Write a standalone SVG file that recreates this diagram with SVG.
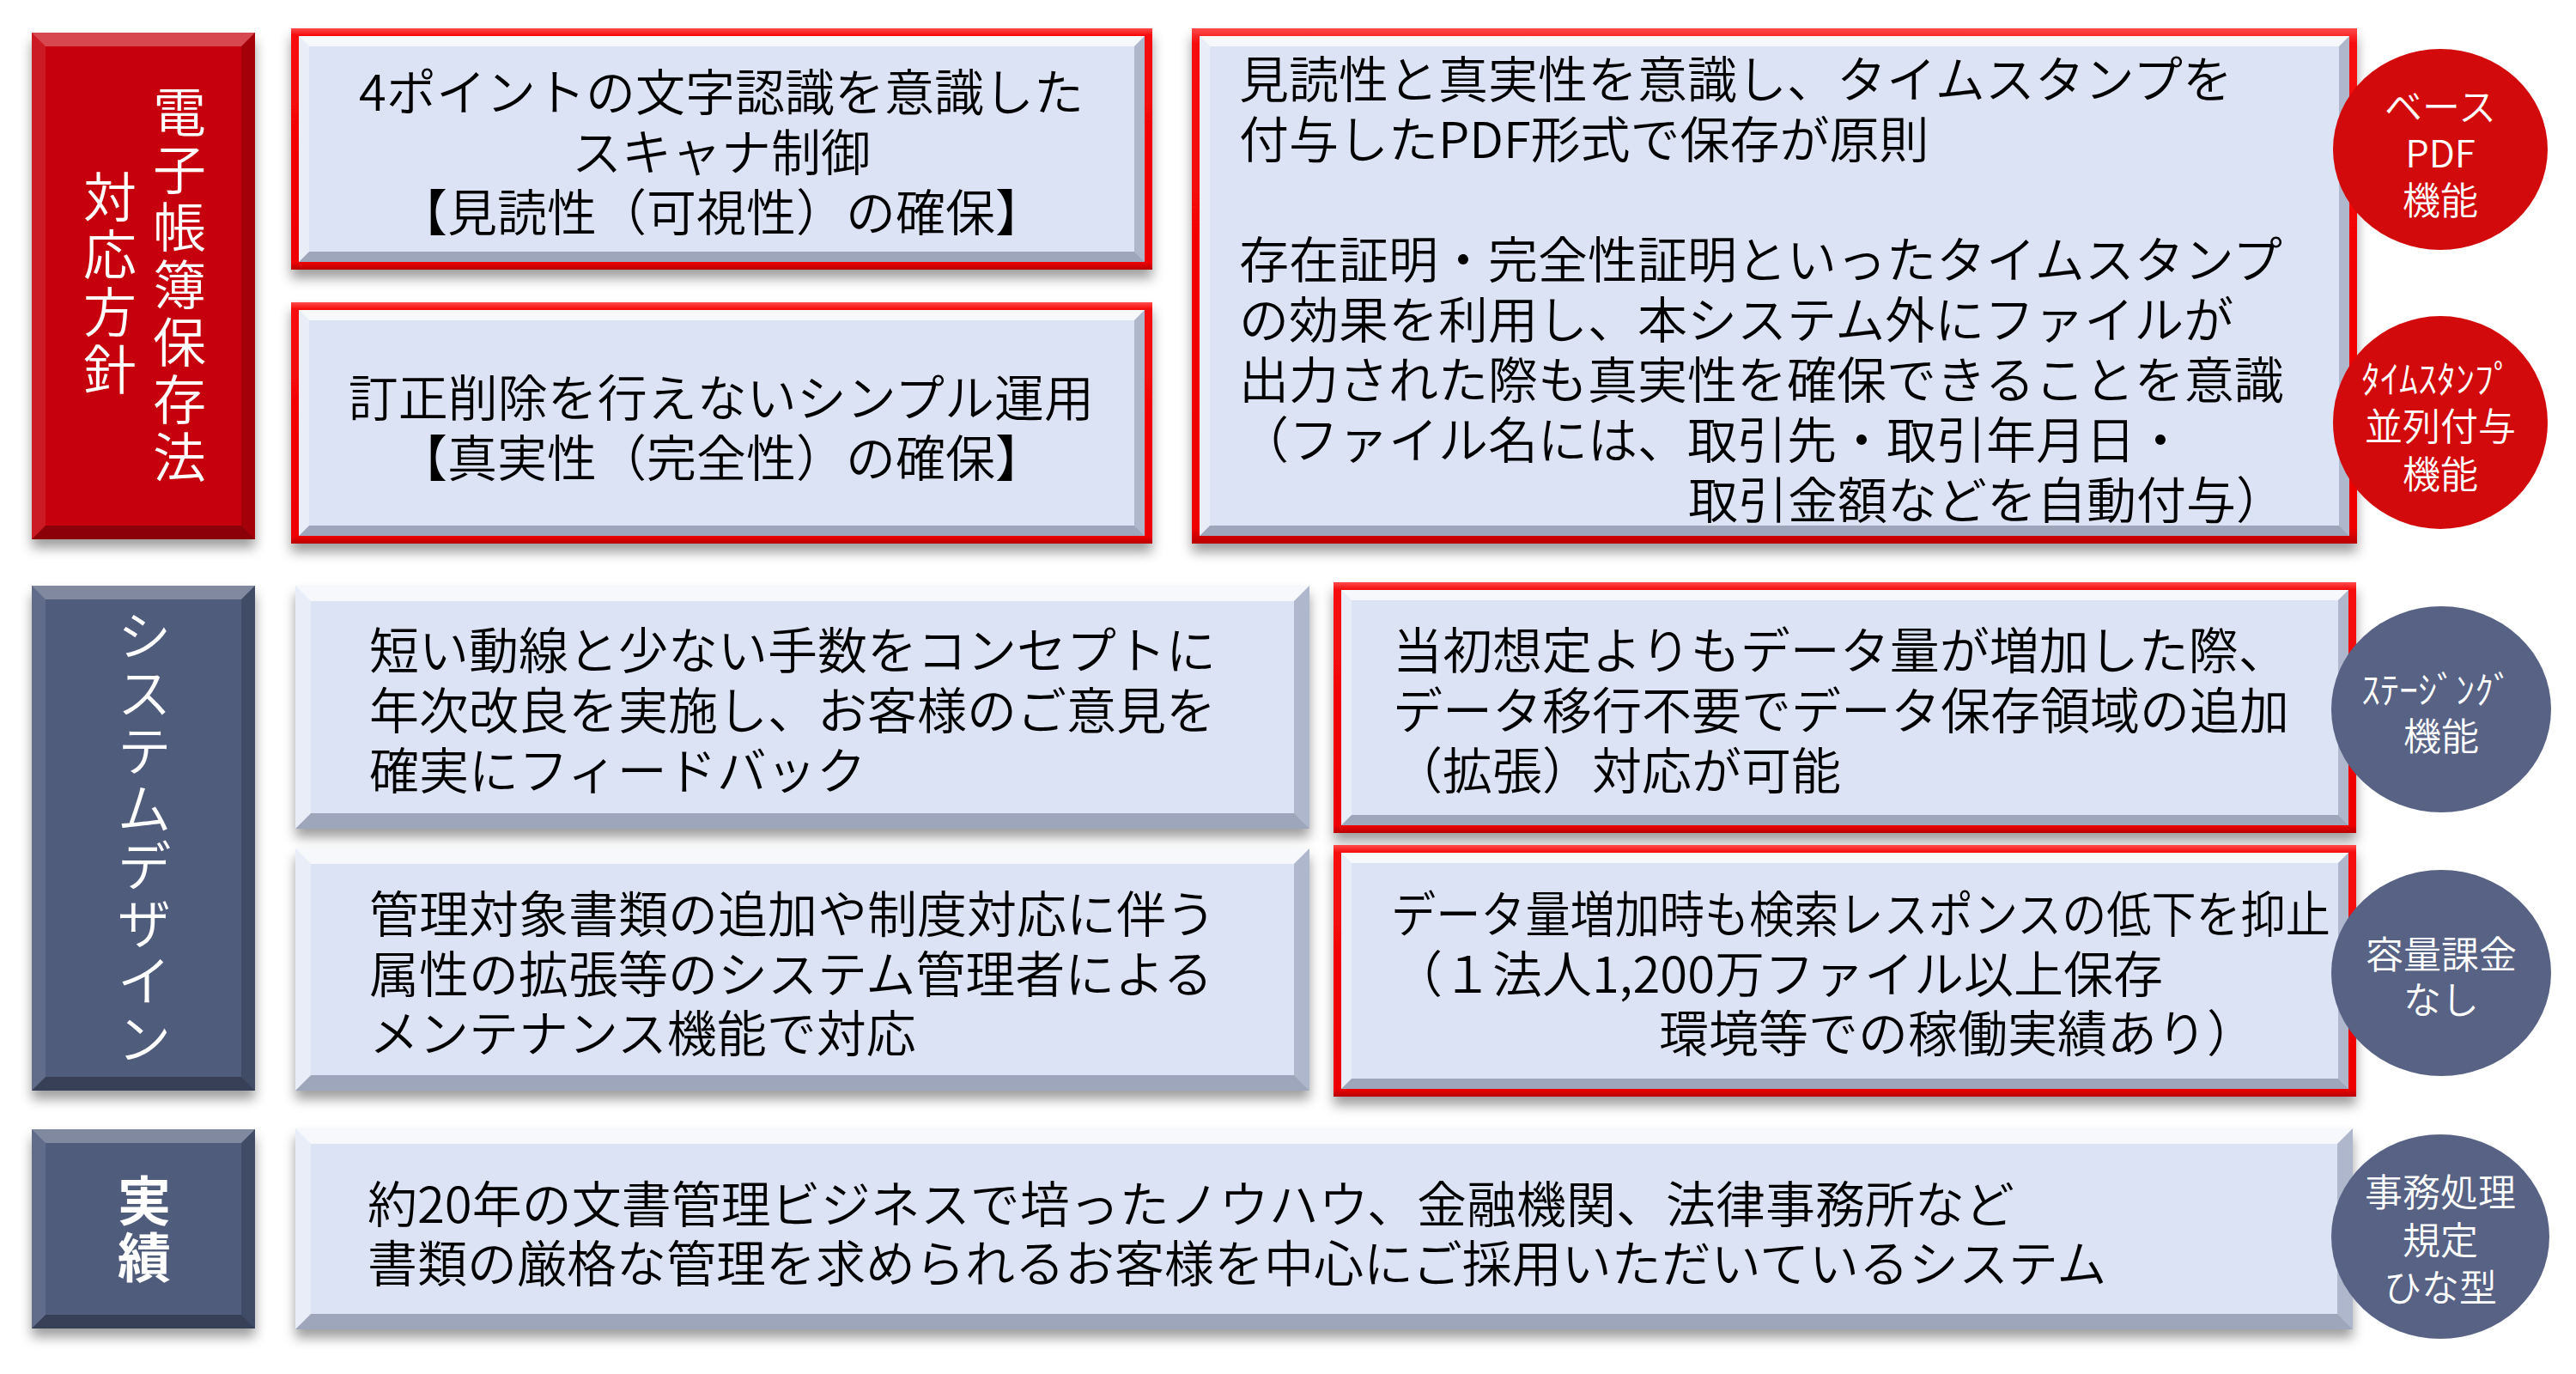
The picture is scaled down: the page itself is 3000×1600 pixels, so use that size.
<svg xmlns="http://www.w3.org/2000/svg" width="3000" height="1600" viewBox="0 0 3000 1600">
<defs>
<filter id="shadow" x="-5%" y="-10%" width="110%" height="130%">
<feDropShadow dx="0" dy="10" stdDeviation="7" flood-color="#000" flood-opacity="0.38"/>
</filter>
<linearGradient id="redFrame" x1="0" y1="0" x2="0" y2="1">
<stop offset="0" stop-color="#FF4A4A"/>
<stop offset="0.03" stop-color="#F60A0A"/>
<stop offset="0.97" stop-color="#EE0000"/>
<stop offset="1" stop-color="#B80000"/>
</linearGradient>
</defs>
<style>
.sh{filter:url(#shadow)}
.lr{fill:#C70008}
.ls{fill:#505B7B}
.fr{fill:url(#redFrame)}
.bl{fill:#DCE3F4}
.hi{fill:#FFFFFF;opacity:.75}
.hl{fill:#FFFFFF;opacity:.35}
.dr{fill:#3B4560;opacity:.28}
.db{fill:#3B4560;opacity:.38}
.lhi{fill:#FFFFFF;opacity:.28}
.lhl{fill:#FFFFFF;opacity:.1}
.ldr{fill:#000000;opacity:.18}
.ldb{fill:#000000;opacity:.3}
.cr{fill:#D30A0B}
.cs{fill:#576285}
text{font-family:"Noto Sans CJK JP","Noto Sans",sans-serif;font-weight:350}
.t{font-size:58px;fill:#000}
.c{text-anchor:middle}
.v{fill:#fff;font-size:62px;writing-mode:vertical-rl;text-anchor:middle;letter-spacing:5px}
.bd{fill:#fff;font-size:44px;text-anchor:middle}
</style>

<g id="label-policy">
<rect class="lr sh" x="37" y="38" width="260" height="590"/>
<polygon class="lhi" points="37,38 297,38 281,54 53,54"/>
<polygon class="ldb" points="37,628 297,628 281,612 53,612"/>
<polygon class="lhl" points="37,38 53,54 53,612 37,628"/>
<polygon class="ldr" points="297,38 281,54 281,612 297,628"/>
<text class="v" x="209" y="334">電子帳簿保存法</text>
<text class="v" x="128" y="332">対応方針</text>
</g>

<g id="box-scanner">
<rect class="fr sh" x="339" y="33" width="1003" height="281"/>
<rect class="bl" x="348" y="42" width="985" height="263"/>
<polygon class="hi" points="348,42 1333,42 1321,54 360,54"/>
<polygon class="db" points="348,305 1333,305 1321,293 360,293"/>
<polygon class="hl" points="348,42 360,54 360,293 348,305"/>
<polygon class="dr" points="1333,42 1321,54 1321,293 1333,305"/>
<text class="t c" x="840" y="129">4ポイントの文字認識を意識した<tspan x="840" dy="70">スキャナ制御</tspan><tspan x="840" dy="70">【見読性（可視性）の確保】</tspan></text>
</g>

<g id="box-simple">
<rect class="fr sh" x="339" y="352" width="1003" height="281"/>
<rect class="bl" x="348" y="361" width="985" height="263"/>
<polygon class="hi" points="348,361 1333,361 1321,373 360,373"/>
<polygon class="db" points="348,624 1333,624 1321,612 360,612"/>
<polygon class="hl" points="348,361 360,373 360,612 348,624"/>
<polygon class="dr" points="1333,361 1321,373 1321,612 1333,624"/>
<text class="t c" x="840" y="485">訂正削除を行えないシンプル運用<tspan x="840" dy="70">【真実性（完全性）の確保】</tspan></text>
</g>

<g id="box-timestamp">
<rect class="fr sh" x="1388" y="33" width="1357" height="600"/>
<rect class="bl" x="1397" y="42" width="1339" height="582"/>
<polygon class="hi" points="1397,42 2736,42 2724,54 1409,54"/>
<polygon class="db" points="1397,624 2736,624 2724,612 1409,612"/>
<polygon class="hl" points="1397,42 1409,54 1409,612 1397,624"/>
<polygon class="dr" points="2736,42 2724,54 2724,612 2736,624"/>
<text class="t" x="1443" y="114">見読性と真実性を意識し、タイムスタンプを<tspan x="1443" dy="70">付与したPDF形式で保存が原則</tspan><tspan x="1443" dy="140">存在証明・完全性証明といったタイムスタンプ</tspan><tspan x="1443" dy="70">の効果を利用し、本システム外にファイルが</tspan><tspan x="1443" dy="70">出力された際も真実性を確保できることを意識</tspan><tspan x="1443" dy="70">（ファイル名には、取引先・取引年月日・</tspan><tspan x="1966" dy="70">取引金額などを自動付与）</tspan></text>
</g>

<g id="badge-pdf">
<ellipse class="cr" cx="2842" cy="174" rx="125" ry="117"/>
<text class="bd" x="2842" y="141">ベース<tspan x="2842" dy="54">PDF</tspan><tspan x="2842" dy="55">機能</tspan></text>
</g>

<g id="badge-timestamp">
<ellipse class="cr" cx="2842" cy="492" rx="125" ry="124"/>
<text class="bd" x="2838" y="458">ﾀｲﾑｽﾀﾝﾌﾟ<tspan x="2842" dy="55">並列付与</tspan><tspan x="2842" dy="56">機能</tspan></text>
</g>

<g id="label-design">
<rect class="ls sh" x="37" y="682" width="260" height="588"/>
<polygon class="lhi" points="37,682 297,682 281,698 53,698"/>
<polygon class="ldb" points="37,1270 297,1270 281,1254 53,1254"/>
<polygon class="lhl" points="37,682 53,698 53,1254 37,1270"/>
<polygon class="ldr" points="297,682 281,698 281,1254 297,1270"/>
<text class="v" x="168" y="976" style="font-size:64px;letter-spacing:3px">システムデザイン</text>
</g>

<g id="box-concept">
<rect class="bl sh" x="344" y="682" width="1181" height="283"/>
<polygon class="hi" points="344,682 1525,682 1507,700 362,700"/>
<polygon class="db" points="344,965 1525,965 1507,947 362,947"/>
<polygon class="hl" points="344,682 362,700 362,947 344,965"/>
<polygon class="dr" points="1525,682 1507,700 1507,947 1525,965"/>
<text class="t" x="430" y="779">短い動線と少ない手数をコンセプトに<tspan x="430" dy="70">年次改良を実施し、お客様のご意見を</tspan><tspan x="430" dy="70">確実にフィードバック</tspan></text>
</g>

<g id="box-maintenance">
<rect class="bl sh" x="344" y="988" width="1181" height="282"/>
<polygon class="hi" points="344,988 1525,988 1507,1006 362,1006"/>
<polygon class="db" points="344,1270 1525,1270 1507,1252 362,1252"/>
<polygon class="hl" points="344,988 362,1006 362,1252 344,1270"/>
<polygon class="dr" points="1525,988 1507,1006 1507,1252 1525,1270"/>
<text class="t" x="430" y="1086">管理対象書類の追加や制度対応に伴う<tspan x="430" dy="70">属性の拡張等のシステム管理者による</tspan><tspan x="430" dy="69">メンテナンス機能で対応</tspan></text>
</g>

<g id="box-expansion">
<rect class="fr sh" x="1553" y="678" width="1191" height="292"/>
<rect class="bl" x="1562" y="687" width="1173" height="274"/>
<polygon class="hi" points="1562,687 2735,687 2723,699 1574,699"/>
<polygon class="db" points="1562,961 2735,961 2723,949 1574,949"/>
<polygon class="hl" points="1562,687 1574,699 1574,949 1562,961"/>
<polygon class="dr" points="2735,687 2723,699 2723,949 2735,961"/>
<text class="t" x="1622" y="779">当初想定よりもデータ量が増加した際、<tspan x="1622" dy="70">データ移行不要でデータ保存領域の追加</tspan><tspan x="1622" dy="70">（拡張）対応が可能</tspan></text>
</g>

<g id="box-performance">
<rect class="fr sh" x="1553" y="984" width="1191" height="293"/>
<rect class="bl" x="1562" y="993" width="1173" height="275"/>
<polygon class="hi" points="1562,993 2735,993 2723,1005 1574,1005"/>
<polygon class="db" points="1562,1268 2735,1268 2723,1256 1574,1256"/>
<polygon class="hl" points="1562,993 1574,1005 1574,1256 1562,1268"/>
<polygon class="dr" points="2735,993 2723,1005 2723,1256 2735,1268"/>
<text class="t" x="1620" y="1086"><tspan textLength="1094" lengthAdjust="spacingAndGlyphs">データ量増加時も検索レスポンスの低下を抑止</tspan><tspan x="1622" dy="70">（１法人1,200万ファイル以上保存</tspan><tspan x="1932" dy="69">環境等での稼働実績あり）</tspan></text>
</g>

<g id="badge-staging">
<ellipse class="cs" cx="2843" cy="826" rx="128" ry="120"/>
<text class="bd" x="2838" y="820">ｽﾃｰｼﾞﾝｸﾞ<tspan x="2843" dy="54">機能</tspan></text>
</g>

<g id="badge-capacity">
<ellipse class="cs" cx="2843" cy="1133" rx="128" ry="120"/>
<text class="bd" x="2843" y="1128">容量課金<tspan x="2843" dy="53">なし</tspan></text>
</g>

<g id="label-results">
<rect class="ls sh" x="37" y="1315" width="260" height="232"/>
<polygon class="lhi" points="37,1315 297,1315 281,1331 53,1331"/>
<polygon class="ldb" points="37,1547 297,1547 281,1531 53,1531"/>
<polygon class="lhl" points="37,1315 53,1331 53,1531 37,1547"/>
<polygon class="ldr" points="297,1315 281,1331 281,1531 297,1547"/>
<text class="v" x="168" y="1433" style="font-weight:700;letter-spacing:4px">実績</text>
</g>

<g id="box-results">
<rect class="bl sh" x="344" y="1314" width="2396" height="234"/>
<polygon class="hi" points="344,1314 2740,1314 2722,1332 362,1332"/>
<polygon class="db" points="344,1548 2740,1548 2722,1530 362,1530"/>
<polygon class="hl" points="344,1314 362,1332 362,1530 344,1548"/>
<polygon class="dr" points="2740,1314 2722,1332 2722,1530 2740,1548"/>
<text class="t" x="428" y="1424">約20年の文書管理ビジネスで培ったノウハウ、金融機関、法律事務所など<tspan x="428" dy="69">書類の厳格な管理を求められるお客様を中心にご採用いただいているシステム</tspan></text>
</g>

<g id="badge-template">
<ellipse class="cs" cx="2842" cy="1440" rx="127" ry="119"/>
<text class="bd" x="2842" y="1405">事務処理<tspan x="2842" dy="56">規定</tspan><tspan x="2842" dy="55">ひな型</tspan></text>
</g>

<g id="connectors"/>
</svg>
